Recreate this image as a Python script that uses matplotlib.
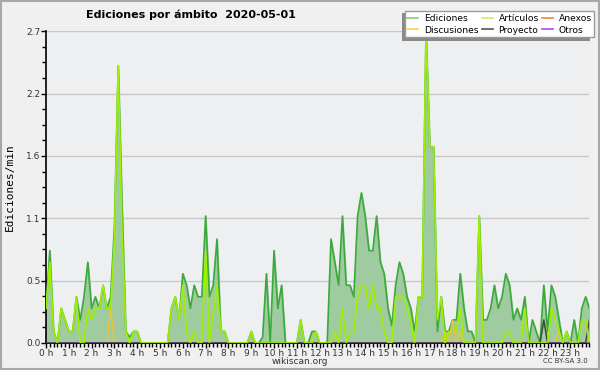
import numpy as np
import matplotlib
matplotlib.use("Agg")
import matplotlib.pyplot as plt
from matplotlib.patches import Rectangle
from matplotlib.lines import Line2D
from matplotlib.ticker import FixedLocator, MultipleLocator

# 10-minute bins, 00:00 .. 23:50 (edits per minute)
ediciones = [
    0.3, 0.8, 0.1, 0.0, 0.3, 0.2, 0.1, 0.1, 0.4, 0.2, 0.4, 0.7,
    0.3, 0.4, 0.3, 0.5, 0.3, 0.4, 1.0, 2.4, 1.2, 0.1, 0.05, 0.1,
    0.1, 0.0, 0.0, 0.0, 0.0, 0.0, 0.0, 0.0, 0.0, 0.3, 0.4, 0.2,
    0.6, 0.5, 0.3, 0.5, 0.4, 0.4, 1.1, 0.4, 0.5, 0.9, 0.1, 0.1,
    0.0, 0.0, 0.0, 0.0, 0.0, 0.0, 0.1, 0.0, 0.0, 0.05, 0.6, 0.0,
    0.8, 0.3, 0.5, 0.0, 0.0, 0.0, 0.0, 0.2, 0.0, 0.0, 0.1, 0.1,
    0.0, 0.0, 0.0, 0.9, 0.7, 0.5, 1.1, 0.5, 0.5, 0.4, 1.1, 1.3,
    1.1, 0.8, 0.8, 1.1, 0.7, 0.6, 0.3, 0.15, 0.5, 0.7, 0.6, 0.4,
    0.3, 0.1, 0.4, 0.4, 2.7, 1.7, 1.7, 0.1, 0.4, 0.1, 0.1, 0.2,
    0.2, 0.6, 0.3, 0.1, 0.1, 0.0, 1.1, 0.2, 0.2, 0.3, 0.5, 0.3,
    0.4, 0.6, 0.5, 0.2, 0.3, 0.2, 0.4, 0.0, 0.2, 0.1, 0.0, 0.5,
    0.1, 0.5, 0.4, 0.2, 0.0, 0.1, 0.0, 0.2, 0.0, 0.3, 0.4, 0.3,
]
articulos = [
    0.3, 0.7, 0.1, 0.0, 0.3, 0.2, 0.1, 0.1, 0.4, 0.0, 0.0, 0.3,
    0.2, 0.3, 0.3, 0.5, 0.3, 0.3, 0.9, 2.4, 1.0, 0.1, 0.0, 0.1,
    0.1, 0.0, 0.0, 0.0, 0.0, 0.0, 0.0, 0.0, 0.0, 0.3, 0.4, 0.2,
    0.5, 0.1, 0.0, 0.1, 0.0, 0.0, 0.8, 0.0, 0.25, 0.5, 0.1, 0.1,
    0.0, 0.0, 0.0, 0.0, 0.0, 0.0, 0.1, 0.0, 0.0, 0.0, 0.0, 0.0,
    0.0, 0.0, 0.0, 0.0, 0.0, 0.0, 0.0, 0.2, 0.0, 0.0, 0.0, 0.1,
    0.0, 0.0, 0.0, 0.0, 0.1, 0.0, 0.3, 0.0, 0.1, 0.1, 0.4, 0.5,
    0.5, 0.3, 0.5, 0.3, 0.3, 0.1, 0.0, 0.0, 0.4, 0.4, 0.4, 0.3,
    0.2, 0.0, 0.4, 0.4, 2.7, 1.7, 1.7, 0.2, 0.4, 0.0, 0.1, 0.1,
    0.1, 0.3, 0.0, 0.0, 0.0, 0.0, 1.1, 0.0, 0.0, 0.0, 0.0, 0.0,
    0.0, 0.1, 0.1, 0.0, 0.0, 0.0, 0.3, 0.0, 0.0, 0.0, 0.0, 0.0,
    0.0, 0.3, 0.2, 0.1, 0.0, 0.1, 0.0, 0.0, 0.0, 0.2, 0.2, 0.0,
]
discusiones = [0.0] * 144
for i, v in [(17, 0.3), (105, 0.1), (107, 0.2), (109, 0.1), (135, 0.1)]:
    discusiones[i] = v
proyecto = [0.0] * 144
for i, v in [(131, 0.2), (143, 0.2)]:
    proyecto[i] = v
anexos = [0.0] * 144
otros = [0.0] * 144

hour_labels = [f"{h} h" for h in range(24)]
y_ticks = [0.0, 0.54, 1.08, 1.62, 2.16, 2.7]
y_labels = ["0.0", "0.5", "1.1", "1.6", "2.2", "2.7"]
legend_labels = ["Ediciones", "Discusiones", "Artículos", "Proyecto", "Anexos", "Otros"]
legend_colors = ["#7fcf7f", "#f7d34a", "#c8f060", "#555555", "#f08040", "#9b4ff0"]

t = np.arange(144) / 6.0

fig = plt.figure(figsize=(6, 3.7), dpi=100)
fig.patch.set_facecolor("#f0f0f0")
fig.patches.append(Rectangle((0.001, 0.002), 0.997, 0.995, transform=fig.transFigure,
                             fill=False, edgecolor="#a8a8a8", linewidth=1.5))
ax = fig.add_axes([46/600, 1-343/370, (589.4-46)/600, (343-31.3)/370])
ax.set_facecolor("#eeeff0")

for s in ["top", "right"]:
    ax.spines[s].set_visible(False)
for s in ["left", "bottom"]:
    ax.spines[s].set_color("black")
    ax.spines[s].set_linewidth(1.2)

ax.set_xlim(0, 143/6)
ax.set_ylim(0, 2.7)
ax.yaxis.set_major_locator(FixedLocator(y_ticks))
ax.set_yticklabels(y_labels)
ax.yaxis.set_minor_locator(MultipleLocator(0.135))
ax.xaxis.set_major_locator(FixedLocator(range(24)))
ax.set_xticklabels(hour_labels)
ax.xaxis.set_minor_locator(MultipleLocator(1/6))
ax.tick_params(axis="both", which="major", labelsize=6.5, labelcolor="#333333",
               length=3.5, width=1, direction="out", pad=0.5)
ax.tick_params(axis="both", which="minor", length=3, width=1, direction="out")
ax.grid(axis="y", which="major", color="#c8c8c8", linewidth=1)
ax.set_axisbelow(True)

ax.fill_between(t, ediciones, color="#a0cba0", zorder=2)
ax.plot(t, ediciones, color="#3aaa3a", lw=1.2, zorder=3)
ax.plot(t, discusiones, color="#f2c12e", lw=1.1, zorder=4)
ax.plot(t, anexos, color="#f08040", lw=1.1, zorder=4)
ax.plot(t, otros, color="#9b4ff0", lw=1.1, zorder=4)
ax.plot(t, proyecto, color="#444444", lw=1.1, zorder=4)
ax.plot(t, articulos, color="#9ef000", lw=1.2, zorder=5)

ax.set_ylabel("Ediciones/min", fontsize=8, family="DejaVu Sans Mono",
              va="center", ha="center")
ax.yaxis.set_label_coords((9.5 - 46) / 543.4, 0.5)

fig.text(86/600, 1-15/370, "Ediciones por ámbito  2020-05-01", fontsize=8,
         fontweight="bold", ha="left", va="center")
fig.text(300/600, 1-361/370, "wikiscan.org", fontsize=6.5, color="#333333",
         ha="center", va="center")
fig.text(588/600, 1-361/370, "CC BY-SA 3.0", fontsize=5, color="#333333",
         ha="right", va="center")

# legend shadow (offset left/down) and legend
fig.patches.append(Rectangle((402/600, 1-41/370), 188/600, 28/370,
                             transform=fig.transFigure, facecolor="#8a8a8a",
                             edgecolor="none", zorder=9))
handles = [Line2D([], [], color=c, lw=1.2) for c in legend_colors]
leg = fig.legend(handles, legend_labels, ncol=3, loc="upper left",
                 bbox_to_anchor=(405/600, 1-11.5/370), fontsize=6.6,
                 frameon=True, fancybox=False, shadow=False,
                 handlelength=1.2, handletextpad=0.6, columnspacing=0.4,
                 labelspacing=0.3, borderpad=0.25, borderaxespad=0)
leg.get_frame().set_edgecolor("#9a9a9a")
leg.get_frame().set_facecolor("white")
leg.get_frame().set_alpha(1)
leg.set_zorder(10)

fig.savefig("out.png", dpi=100, facecolor=fig.get_facecolor())
